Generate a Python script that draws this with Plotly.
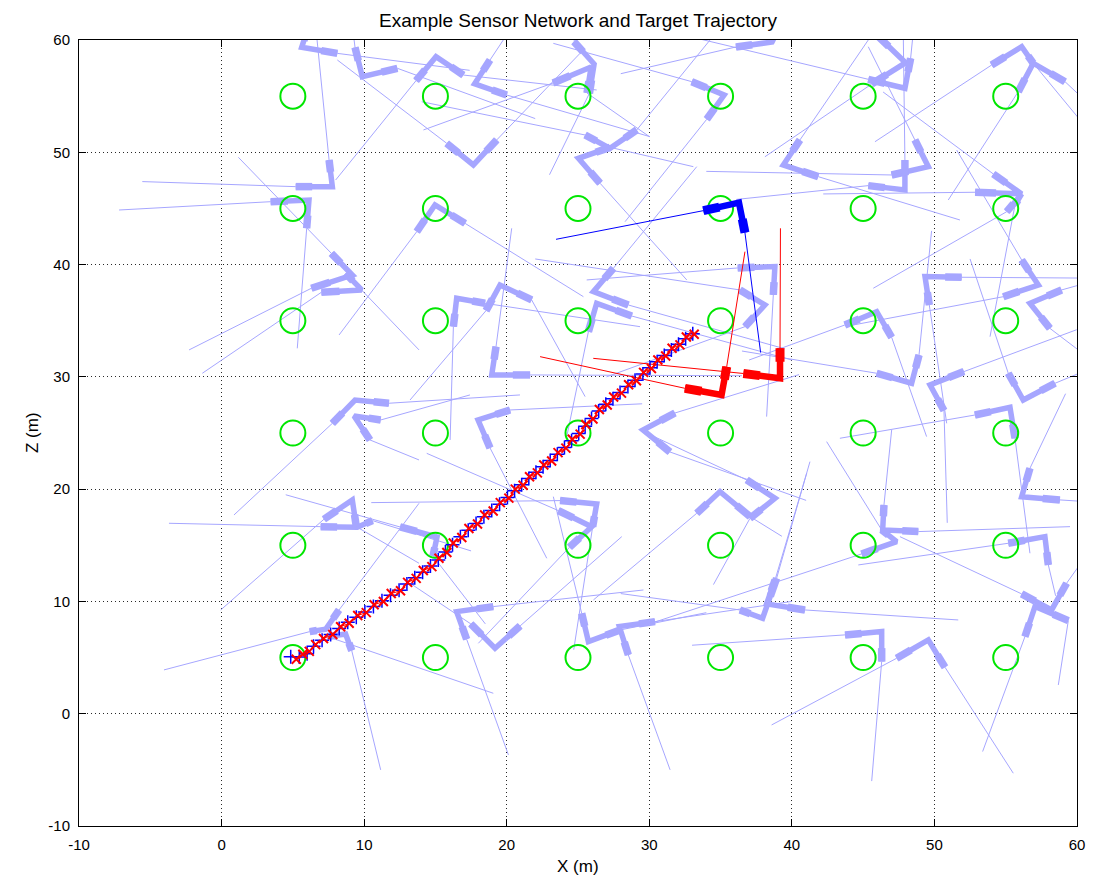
import plotly.graph_objects as go

title_text = "Example Sensor Network and Target Trajectory"
x_label = "X (m)"
z_label = "Z (m)"
tick_vals = [-10, 0, 10, 20, 30, 40, 50, 60]

# grid of reference nodes (green circles)
grid_x = [5, 15, 25, 35, 45, 55]
grid_z = [5, 15, 25, 35, 45, 55]

# background sensors: corner, arm-1 tip, ray-1 end, arm-2 tip, ray-2 end
s_cx = [5.62, 9.87, 7.77, 15.04, 6.13, 9.17, 9.83, 9.36, 9.29, 17.75, 26.13, 25.92, 35.25, 17.66, 27.25, 25.03,
        14.97, 16.49, 19.53, 26.08, 26.31, 18.95, 17.99, 29.56, 38.11, 38.81, 47.93, 47.98, 49.57, 47.93, 39.4,
        56.12, 56.93, 56.12, 56.12, 49.34, 57.29, 56.7, 45.95, 48.4, 49.69, 56.23, 55.3, 38.82, 34.96, 37.95,
        38.23, 46.37, 47.35, 46.3, 49.57, 58.22, 57.05, 56.12, 57.75, 26.31, 25.96, 16.49, 19.18, 25.73, 27.9,
        15.11, 9.17, 9.52, 7.3, 8.7, 38.61]
s_cz = [59.35, 56.73, 46.94, 58.52, 45.75, 39.07, 37.74, 27.94, 26.52, 56.1, 57.86, 57.6, 55.1, 48.87, 50.35, 49.46,
        45.31, 37.0, 38.18, 37.59, 36.55, 30.17, 26.16, 25.27, 36.4, 39.82, 55.7, 57.98, 48.72, 46.64, 48.87,
        59.4, 57.93, 46.29, 46.29, 38.93, 38.18, 36.55, 35.81, 29.43, 29.28, 27.94, 27.29, 19.18, 19.78, 8.5,
        9.78, 16.37, 15.33, 7.31, 6.57, 9.24, 9.54, 19.33, 15.77, 18.68, 16.66, 9.09, 5.83, 6.42, 7.76,
        15.74, 19.04, 16.6, 7.52, 7.1, 59.82]
s_a1x = [5.9, 9.36, 7.54, 13.64, 3.44, 7.7, 8.7, 7.77, 11.16, 18.83, 24.72, 23.25, 32.98, 15.79, 25.5, 27.25,
         13.69, 16.26, 18.55, 27.48, 25.73, 19.25, 20.23, 31.8, 36.36, 36.2, 48.33, 45.83, 48.63, 47.93, 40.57,
         54.01, 59.16, 52.85, 55.07, 51.91, 56.12, 58.92, 43.72, 48.92, 52.07, 55.18, 52.84, 36.83, 33.33, 38.93,
         40.92, 46.46, 46.3, 43.73, 47.35, 56.12, 59.39, 56.7, 55.18, 23.74, 23.62, 19.06, 17.48, 25.26, 30.4,
         12.52, 7.18, 6.95, 8.24, 7.42, 36.08]
s_a1z = [60.45, 59.35, 49.31, 56.38, 45.6, 41.0, 39.22, 25.86, 26.16, 58.22, 59.85, 56.17, 56.29, 50.8, 51.54, 50.44,
         42.93, 34.47, 35.9, 39.67, 34.03, 32.69, 27.05, 26.78, 37.74, 39.7, 58.37, 60.6, 51.1, 49.31, 51.1,
         57.77, 56.29, 46.44, 44.71, 38.87, 40.41, 37.74, 34.62, 31.95, 30.47, 30.32, 26.6, 20.82, 17.85, 12.06,
         9.24, 18.59, 16.37, 7.02, 4.94, 10.67, 8.29, 21.86, 15.18, 18.98, 18.09, 9.54, 8.0, 8.94, 8.2,
         16.63, 17.32, 16.66, 9.24, 6.87, 59.38]
s_r1x = [6.3, 9.0, 6.65, 8.0, -7.19, 1.18, 13.85, 0.87, 17.42, 20.23, 25.5, 14.16, 23.27, 8.12, 14.04, 33.09,
         8.24, 16.03, 13.22, 33.33, 24.21, 20.35, 29.5, 40.5, 22.0, 25.61, 48.5, 45.5, 45.36, 47.82, 45.36,
         45.83, 61.5, 42.2, 45.71, 60.2, 51.56, 60.5, 37.0, 49.8, 59.98, 52.5, 43.37, 29.35, 26.08, 41.27,
         51.67, 47.0, 42.44, 33.0, 38.58, 47.58, 58.69, 59.2, 44.66, 10.5, 14.39, 29.59, 13.22, 23.27, 40.0,
         4.5, -0.06, -3.69, 13.85, 19.06, 28.0]
s_r1z = [63.0, 63.0, 60.6, 47.53, 44.86, 49.55, 32.4, 17.7, 28.39, 60.9, 65.0, 51.99, 59.7, 58.22, 54.5, 48.72,
         33.73, 24.38, 27.94, 48.72, 24.68, 43.23, 27.6, 30.2, 40.5, 38.63, 60.5, 62.0, 59.4, 60.0, 60.0,
         50.94, 53.5, 46.29, 37.89, 38.8, 50.2, 38.3, 31.5, 43.0, 34.2, 40.5, 24.53, 25.27, 10.13, 22.45,
         8.35, 25.27, 24.23, 6.1, -1.0, 15.77, 2.56, 28.5, 13.25, 18.8, 23.19, 11.02, 11.62, 19.33, 10.0,
         19.5, 9.24, 16.96, 18.74, 1.82, 57.0]
s_a2x = [8.12, 12.33, 5.2, 16.96, 5.97, 6.3, 7.0, 11.74, 10.41, 20.0, 25.8, 25.63, 34.03, 19.3, 29.12, 26.55,
         17.08, 18.48, 21.75, 28.53, 28.77, 21.64, 18.83, 31.45, 36.71, 38.7, 45.36, 45.6, 47.0, 45.36, 41.85,
         56.93, 55.88, 54.13, 55.65, 49.64, 54.83, 58.1, 47.0, 45.95, 50.67, 58.46, 55.65, 37.06, 37.07, 36.36,
         38.82, 48.87, 44.89, 46.3, 50.74, 59.27, 56.35, 58.8, 57.99, 26.03, 24.4, 17.19, 20.94, 27.95, 28.53,
         14.83, 9.45, 10.58, 6.18, 9.13, 39.03]
s_a2z = [58.81, 57.48, 46.94, 56.88, 43.23, 37.89, 37.53, 27.65, 24.38, 55.1, 55.25, 55.28, 52.94, 51.1, 51.99, 47.24,
         43.67, 36.55, 36.85, 36.4, 35.42, 30.17, 23.67, 23.31, 34.47, 37.3, 56.5, 56.08, 47.98, 47.03, 47.83,
         57.93, 55.4, 48.07, 45.3, 36.4, 37.14, 34.32, 33.52, 30.32, 27.0, 29.43, 24.53, 17.4, 17.55, 9.24,
         11.91, 16.22, 14.23, 4.64, 4.14, 11.62, 6.87, 19.04, 13.25, 16.66, 14.82, 6.63, 7.82, 7.46, 5.23,
         14.04, 16.66, 17.2, 7.31, 5.62, 60.9]
s_r2x = [17.4, 22.0, -5.56, 26.31, 5.31, -2.28, -1.35, 20.93, 13.85, 30.05, 23.0, 30.0, 28.3, 25.14, 34.26, 32.63,
         25.38, 29.35, 25.5, 39.5, 40.0, 36.5, 22.81, 41.0, 27.0, 38.23, 32.85, 38.11, 34.0, 36.1, 51.79,
         60.2, 50.97, 46.4, 53.9, 50.86, 43.8, 60.5, 49.45, 36.5, 50.9, 60.5, 56.7, 34.5, 39.3, 28.0,
         41.04, 59.51, 30.0, 45.6, 55.53, 60.1, 53.38, 60.5, 58.5, 24.7, 18.01, 20.12, 28.07, 34.0, 31.46,
         18.5, 13.85, 17.5, -4.04, 11.16, 39.5]
s_r2z = [57.3, 53.0, 47.39, 55.55, 32.54, 32.4, 30.32, 28.39, 22.6, 51.39, 48.0, 51.4, 43.82, 58.81, 60.0, 38.63,
         37.14, 34.47, 28.24, 32.5, 31.5, 30.1, 13.84, 19.0, 30.0, 26.46, 60.3, 49.6, 48.3, 45.8, 43.97,
         52.9, 45.75, 55.37, 33.58, 25.86, 34.5, 32.0, 24.68, 32.3, 17.0, 30.5, 14.29, 11.5, 15.8, 10.7,
         21.41, 16.66, 8.0, -6.0, -5.3, 13.1, -3.37, 18.9, 10.5, 5.7, 6.27, -3.67, 15.77, 9.0, -5.0,
         8.0, 13.4, 14.5, 3.9, -5.0, 63.0]

# highlighted sensors (red: active pair, blue: other)
red_cx = [35.07, 39.17]
red_cz = [28.39, 29.87]
red_a1x = [32.5, 36.6]
red_a1z = [28.98, 30.3]
red_r1x = [22.34, 26.07]
red_r1z = [31.8, 31.65]
red_a2x = [35.43, 39.17]
red_a2z = [30.9, 32.55]
red_r2x = [36.71, 39.2]
red_r2z = [41.15, 43.23]

blue_cx = [36.29]
blue_cz = [45.51]
blue_a1x = [33.79]
blue_a1z = [44.8]
blue_r1x = [23.46]
blue_r1z = [42.25]
blue_a2x = [36.71]
blue_a2z = [42.84]
blue_r2x = [37.81]
blue_r2z = [32.16]

# target trajectory: true (blue +) and estimated (red x)
true_x = [4.85, 5.45, 6.00, 6.45, 7.05, 7.65, 8.25, 8.85, 9.45, 10.05, 10.65, 11.25, 11.85, 12.45, 13.00, 13.55,
          14.10, 14.65, 15.20, 15.70, 16.20, 16.75, 17.30, 17.85, 18.40, 18.95, 19.50, 20.05, 20.55, 21.05, 21.55,
          22.05, 22.55, 23.05, 23.55, 24.05, 24.55, 25.05, 25.50, 25.95, 26.45, 26.95, 27.45, 27.95, 28.50, 29.00,
          29.55, 30.05, 30.55, 31.05, 31.55, 32.05, 32.55, 33.05]
true_z = [5.08, 5.05, 5.35, 6.00, 6.55, 7.05, 7.60, 8.15, 8.60, 9.05, 9.55, 10.05, 10.55, 11.00, 11.55, 12.10,
          12.60, 13.15, 13.70, 14.40, 15.05, 15.75, 16.35, 16.95, 17.55, 18.10, 18.65, 19.25, 19.85, 20.40, 20.95,
          21.50, 22.00, 22.55, 23.10, 23.70, 24.30, 24.95, 25.60, 26.30, 26.95, 27.55, 28.05, 28.60, 29.15, 29.70,
          30.25, 30.80, 31.35, 31.90, 32.40, 32.90, 33.40, 33.85]
est_x = [5.24, 5.70, 6.15, 6.60, 7.15, 7.80, 8.35, 8.95, 9.55, 10.15, 10.70, 11.35, 11.90, 12.55, 13.05, 13.65,
         14.15, 14.75, 15.25, 15.80, 16.25, 16.85, 17.35, 17.95, 18.45, 19.05, 19.55, 20.15, 20.60, 21.15, 21.60,
         22.15, 22.60, 23.15, 23.60, 24.15, 24.60, 25.15, 25.55, 26.05, 26.50, 27.05, 27.50, 28.05, 28.55, 29.10,
         29.60, 30.15, 30.60, 31.15, 31.60, 32.15, 32.60, 33.15]
est_z = [4.85, 5.30, 5.55, 6.15, 6.70, 7.05, 7.75, 8.05, 8.75, 9.00, 9.70, 10.00, 10.70, 10.95, 11.70, 12.05,
         12.75, 13.10, 13.85, 14.35, 15.20, 15.70, 16.50, 16.90, 17.70, 18.05, 18.80, 19.20, 20.00, 20.35, 21.10,
         21.45, 22.15, 22.50, 23.25, 23.65, 24.45, 24.90, 25.75, 26.25, 27.10, 27.50, 28.20, 28.55, 29.30, 29.65,
         30.40, 30.75, 31.50, 31.85, 32.55, 32.85, 33.55, 33.80]

LIGHT = "rgb(166,166,255)"
TIP_FRAC = 0.45
FONT = "Liberation Sans, Arial, sans-serif"


def build(cx, cz, a1x, a1z, r1x, r1z, a2x, a2z, r2x, r2z):
    rays_x, rays_z, arm_x, arm_z, tip_x, tip_z = [], [], [], [], [], []
    for i in range(len(cx)):
        rays_x += [a1x[i], r1x[i], None, a2x[i], r2x[i], None]
        rays_z += [a1z[i], r1z[i], None, a2z[i], r2z[i], None]
        arm_x += [a1x[i], cx[i], a2x[i], None]
        arm_z += [a1z[i], cz[i], a2z[i], None]
        for ax, az in ((a1x[i], a1z[i]), (a2x[i], a2z[i])):
            tip_x += [ax - TIP_FRAC * (ax - cx[i]), ax, None]
            tip_z += [az - TIP_FRAC * (az - cz[i]), az, None]
    return rays_x, rays_z, arm_x, arm_z, tip_x, tip_z


fig = go.Figure()


def add_sensors(data, color, ray_w, arm_w, tip_w):
    rx, rz, ax, az, tx, tz = data
    fig.add_trace(go.Scatter(x=rx, y=rz, mode="lines", line=dict(color=color, width=ray_w),
                             hoverinfo="skip", showlegend=False))
    fig.add_trace(go.Scatter(x=ax, y=az, mode="lines", line=dict(color=color, width=arm_w),
                             hoverinfo="skip", showlegend=False))
    fig.add_trace(go.Scatter(x=tx, y=tz, mode="lines", line=dict(color=color, width=tip_w),
                             hoverinfo="skip", showlegend=False))


add_sensors(build(s_cx, s_cz, s_a1x, s_a1z, s_r1x, s_r1z, s_a2x, s_a2z, s_r2x, s_r2z), LIGHT, 1, 5.5, 7.5)

# green reference circles
circ_x = [gx for gz in grid_z for gx in grid_x]
circ_z = [gz for gz in grid_z for gx in grid_x]
fig.add_trace(go.Scatter(x=circ_x, y=circ_z, mode="markers",
                         marker=dict(symbol="circle-open", size=25, color="rgb(0,230,0)",
                                     line=dict(width=2, color="rgb(0,230,0)")),
                         hoverinfo="skip", showlegend=False))

add_sensors(build(red_cx, red_cz, red_a1x, red_a1z, red_r1x, red_r1z, red_a2x, red_a2z, red_r2x, red_r2z),
            "rgb(255,0,0)", 1, 6.5, 9)
add_sensors(build(blue_cx, blue_cz, blue_a1x, blue_a1z, blue_r1x, blue_r1z, blue_a2x, blue_a2z, blue_r2x, blue_r2z),
            "rgb(0,0,255)", 1, 6.5, 9)

fig.add_trace(go.Scatter(x=true_x, y=true_z, mode="markers",
                         marker=dict(symbol="cross-thin", size=10, line=dict(width=1.5, color="rgb(0,0,255)")),
                         hoverinfo="skip", showlegend=False))
fig.add_trace(go.Scatter(x=est_x, y=est_z, mode="lines+markers",
                         line=dict(color="rgb(255,0,0)", width=1),
                         marker=dict(symbol="x-thin", size=9, line=dict(width=2, color="rgb(255,0,0)")),
                         hoverinfo="skip", showlegend=False))

# page body has an 8 px margin: figure occupies 8..1087 x 8..880 of the window
W, H = 1079, 872
ML, MT, MR, MB = 71, 32, 10, 54
PW, PH = W - ML - MR, H - MT - MB

axis_common = dict(
    range=[-10, 60], tickmode="array", tickvals=tick_vals, ticktext=[str(v) for v in tick_vals],
    showgrid=True, gridcolor="rgb(40,40,40)", gridwidth=1, griddash="1px,3px",
    zeroline=False, showline=True, linecolor="black", linewidth=1, mirror="ticks",
    ticks="inside", ticklen=7, tickcolor="black", automargin=False,
    tickfont=dict(family=FONT, size=15, color="black"),
)
fig.update_layout(
    width=W, height=H,
    margin=dict(l=ML, r=MR, t=MT, b=MB, autoexpand=False),
    paper_bgcolor="white", plot_bgcolor="white",
    xaxis=dict(axis_common, ticklabelstandoff=5),
    yaxis=dict(axis_common, ticklabelstandoff=5),
    title=dict(text=title_text, x=0.5, xref="paper", xanchor="center", y=1 - 12 / H, yanchor="middle",
               font=dict(family=FONT, size=19, color="black")),
    annotations=[
        dict(text=x_label, xref="paper", yref="paper", x=0.5, y=-(866 - 826) / PH, xanchor="center",
             yanchor="middle", showarrow=False, font=dict(family=FONT, size=17, color="black")),
        dict(text=z_label, xref="paper", yref="paper", x=-(79 - 32) / PW, y=0.5, xanchor="center",
             yanchor="middle", textangle=-90, showarrow=False, font=dict(family=FONT, size=17, color="black")),
    ],
)

fig.write_html("out.html")
